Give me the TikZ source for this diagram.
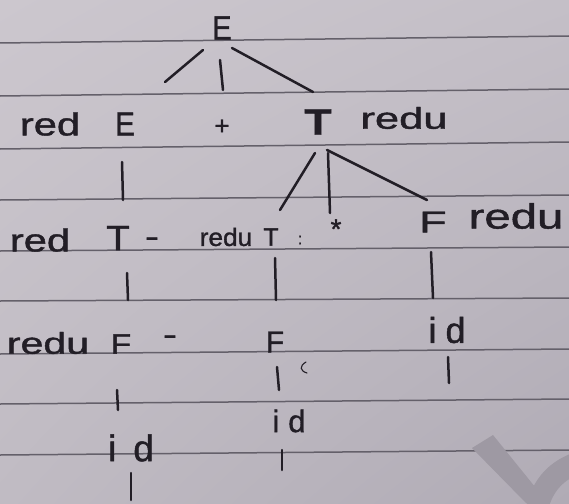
\documentclass[tikz,border=0pt]{standalone}
\usepackage{fontspec}
\setmainfont{Liberation Sans}
\newfontfamily\hand[FakeBold=1.2]{Liberation Sans}
\usetikzlibrary{calc,shadings}
\definecolor{ink}{RGB}{34,30,38}
\definecolor{rulecol}{RGB}{100,96,106}
\definecolor{wm}{RGB}{158,153,163}
\definecolor{bgUL}{RGB}{204,199,206}
\definecolor{bgUR}{RGB}{196,191,199}
\definecolor{bgLL}{RGB}{192,187,195}
\definecolor{bgLR}{RGB}{176,171,181}
\newcommand{\hwx}[2]{\scalebox{#1}[1]{#2}}
\newcommand{\fs}[1]{\hand\fontsize{#1}{#1}\selectfont}
\begin{document}
\begin{tikzpicture}[x=1pt,y=-1pt,
  hw/.style={inner sep=0pt, text=ink, anchor=center},
  conn/.style={draw=ink, line width=2.5pt, line cap=round},
  ruled/.style={draw=rulecol, line width=1.5pt}]
\useasboundingbox (0,0) rectangle (569,503);
\shade[upper left=bgUL, upper right=bgUR, lower left=bgLL, lower right=bgLR] (0,0) rectangle (569,503);
% ruled lines
\draw[ruled] (0,43) -- (569,36);
\draw[ruled] (0,96) -- (569,89);
\draw[ruled] (0,149) -- (569,142);
\draw[ruled] (0,200) -- (569,195);
\draw[ruled] (0,251) -- (569,247);
\draw[ruled] (0,301) -- (569,298);
\draw[ruled] (0,354) -- (569,349);
\draw[ruled] (0,404) -- (569,399);
\draw[ruled] (0,455) -- (569,450);
% watermark
\begin{scope}
\clip (0,0) rectangle (569,503);
\fill[wm] (472,448) -- (493,435) -- (548,503) -- (526,503) -- cycle;
\draw[wm, line width=22pt] (537,508) .. controls (543,485) and (556,470) .. (580,462);
\end{scope}
% tree nodes
\node[hw, font=\fs{34}] (nE0) at (222,28) {\hwx{0.85}{E}};
\node[hw, font=\fs{33}] (nE1) at (125,124) {\hwx{0.9}{E}};
\node[hw, font=\fs{26}] (nPlus) at (222,127) {+};
\node[hw, font=\fs{37}\bfseries] (nT1) at (318,122) {\hwx{1.2}{T}};
\node[hw, font=\fs{35}] (nT2) at (118,238) {\hwx{1.1}{T}};
\node[hw, font=\fs{25}] (nT3) at (271,237) {T};
\node[hw, font=\fs{28}] (nStar) at (336,229) {*};
\node[hw, font=\fs{30}] (nF3) at (433,222) {\hwx{1.5}{F}};
\node[hw, font=\fs{28}] (nF4) at (121,344) {\hwx{1.2}{F}};
\node[hw, font=\fs{30}] (nF5) at (275,342) {F};
\node[hw, font=\fs{36}] (nId3) at (447,330) {i\kern9pt d};
\node[hw, font=\fs{31}] (nId2) at (289,421) {i\kern9pt d};
\node[hw, font=\fs{37}] (nId1) at (131,448) {i\kern17pt d};
% side labels
\node[hw, font=\fs{32}] (lRed1) at (50,124) {\hwx{1.3}{red}};
\node[hw, font=\fs{30}] (lRedu1) at (404,118) {\hwx{1.45}{redu}};
\node[hw, font=\fs{32}] (lRed2) at (40,240) {\hwx{1.3}{red}};
\node[hw, font=\fs{30}] (lDash2) at (152,242) {\hwx{1.4}{-}};
\node[hw, font=\fs{25}] (lRedu2) at (226,237) {\hwx{1.05}{redu}};
\node[hw, font=\fs{16}] (lColon) at (300,240) {:};
\node[hw, font=\fs{35}] (lRedu3) at (516,216) {\hwx{1.35}{redu}};
\node[hw, font=\fs{30}] (lRedu4) at (48,343) {\hwx{1.37}{redu}};
\node[hw, font=\fs{30}] (lDash4) at (170,340) {\hwx{1.4}{-}};
% connectors
\draw[conn] ($(nE0)+(-19,22)$) -- ($(nE1)+(40,-42)$);
\draw[conn] ($(nE0)+(-2,32)$) -- ($(nPlus)+(1,-37)$);
\draw[conn] ($(nE0)+(10,20)$) -- ($(nT1)+(-5,-30)$);
\draw[conn] ($(nE1)+(-3,38)$) -- ($(nT2)+(5,-38)$);
\draw[conn] ($(nT1)+(-3,31)$) -- ($(nT3)+(9,-27)$);
\draw[conn] ($(nT1)+(10,31)$) -- ($(nStar)+(-6,-16)$);
\draw[conn] ($(nT1)+(9,28)$) -- ($(nF3)+(-6,-22)$);
\draw[conn] ($(nT2)+(9,35)$) -- ($(nF4)+(7,-44)$);
\draw[conn] ($(nT3)+(4,21)$) -- ($(nF5)+(1,-42)$);
\draw[conn] ($(nF3)+(-2,30)$) -- ($(nId3)+(-14,-32)$);
\draw[conn] ($(nF4)+(-4,46)$) -- ($(nId1)+(-13,-38)$);
\draw[conn] ($(nF5)+(2,25)$) -- ($(nId2)+(-10,-31)$);
\coordinate (c1) at (131,500);
\coordinate (c2) at (282,470);
\coordinate (c3) at (449,383);
\draw[conn] ($(nId1)+(0,25)$) -- (c1);
\draw[conn] ($(nId2)+(-7,29)$) -- (c2);
\draw[conn] ($(nId3)+(1,27)$) -- (c3);
% stray mark
\draw[ink, line width=1.1pt, line cap=round] (306,362) .. controls (299,366) and (300,371) .. (307,373);
\end{tikzpicture}
\end{document}
